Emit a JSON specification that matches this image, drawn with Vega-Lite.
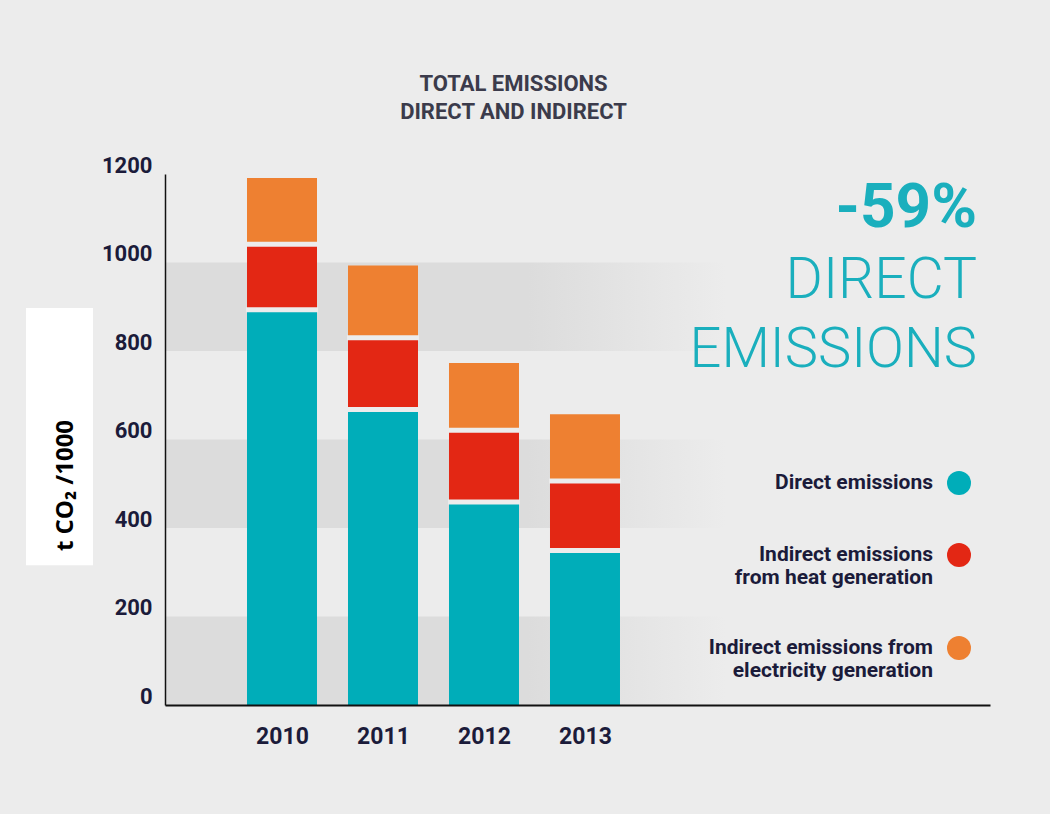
{
  "$schema": "https://vega.github.io/schema/vega-lite/v6.json",
  "width": 825,
  "height": 531,
  "autosize": {"type": "none"},
  "padding": {"left": 165, "top": 174, "right": 60, "bottom": 109},
  "background": "#ececec",
  "title": {
    "text": ["TOTAL EMISSIONS", "DIRECT AND INDIRECT"],
    "font": "Roboto",
    "fontSize": 22,
    "fontWeight": "bold",
    "color": "#3b3b4b",
    "lineHeight": 28,
    "anchor": "middle",
    "frame": "group",
    "dx": -64,
    "offset": 30
  },
  "config": {
    "view": {"stroke": null},
    "scale": {"continuousPadding": 0},
    "axis": {"zindex": 2}
  },
  "layer": [
    {
      "data": {"values": [{"lo": 0, "hi": 200}, {"lo": 400, "hi": 600}, {"lo": 800, "hi": 1000}]},
      "mark": {
        "type": "rect",
        "fill": {
          "gradient": "linear", "x1": 0, "x2": 1, "y1": 0, "y2": 0,
          "stops": [
            {"offset": 0, "color": "#dcdcdc"},
            {"offset": 0.44, "color": "#dcdcdc"},
            {"offset": 0.68, "color": "#ececec"},
            {"offset": 1, "color": "#ececec"}
          ]
        }
      },
      "encoding": {
        "y": {"field": "lo", "type": "quantitative", "scale": {"domain": [0, 1200], "padding": 0}},
        "y2": {"field": "hi"}
      }
    },
    {
      "data": {"values": [{"box": "axis title"}]},
      "mark": {"type": "rect", "fill": "#ffffff"},
      "encoding": {
        "x": {"datum": 2007.465, "type": "quantitative", "scale": {"domain": [2008.8416, 2017.01], "nice": false, "zero": false, "padding": 0}},
        "x2": {"datum": 2008.129},
        "y": {"datum": 897, "type": "quantitative"},
        "y2": {"datum": 316}
      }
    },
    {
      "data": {"name": "emissions"},
      "mark": {"type": "bar", "width": 70},
      "encoding": {
        "x": {
          "field": "year", "type": "quantitative",
          "scale": {"domain": [2008.8416, 2017.01], "nice": false, "zero": false, "padding": 0},
          "axis": {
            "title": null, "values": [2010, 2011, 2012, 2013], "format": "d", "zindex": 2,
            "grid": false, "ticks": false, "domainColor": "#111111", "domainWidth": 2,
            "labelPadding": 20, "labelFont": "Roboto", "labelFontSize": 23,
            "labelFontWeight": "bold", "labelColor": "#1b1b3a", "labelBaseline": "top", "labelFlush": false
          }
        },
        "y": {
          "field": "value", "type": "quantitative", "stack": "zero",
          "scale": {"domain": [0, 1200], "padding": 0},
          "axis": {
            "title": "t CO₂ /1000", "titleX": -100, "titleY": 311, "titleAngle": 270,
            "titleAlign": "center", "titleBaseline": "middle", "zindex": 2,
            "titleFont": "Open Sans", "titleFontSize": 24, "titleFontWeight": "bold", "titleColor": "#000000",
            "values": [0, 200, 400, 600, 800, 1000, 1200], "format": "d",
            "grid": false, "ticks": false, "domainColor": "#111111", "domainWidth": 1.5,
            "labelPadding": 13, "labelOffset": -9,
            "labelFont": "Roboto", "labelFontSize": 22,
            "labelFontWeight": "bold", "labelColor": "#1b1b3a", "labelFlush": false
          }
        },
        "color": {
          "field": "type", "type": "nominal",
          "scale": {
            "domain": ["Direct emissions", "Indirect emissions from heat generation", "Indirect emissions from electricity generation"],
            "range": ["#00adb9", "#e32714", "#ee8031"]
          },
          "legend": {
            "orient": "none", "legendX": 782, "legendY": 297, "title": null,
            "symbolType": "circle", "symbolSize": 576, "symbolStrokeWidth": 0, "symbolOpacity": 1,
            "labelFont": "Roboto", "labelFontSize": 21, "labelFontWeight": "bold",
            "labelColor": "#1b1b3a", "labelAlign": "right", "labelBaseline": "middle", "labelOffset": -38, "labelLimit": 400,
            "rowPadding": 48, "padding": 0,
            "labelExpr": "datum.label == 'Indirect emissions from heat generation' ? ['Indirect emissions', 'from heat generation'] : datum.label == 'Indirect emissions from electricity generation' ? ['Indirect emissions from', 'electricity generation'] : datum.label"
          }
        },
        "order": {"field": "seq", "type": "quantitative"}
      }
    },
    {
      "data": {"name": "emissions"},
      "transform": [{"filter": "datum.seq < 3"}],
      "mark": {"type": "tick", "orient": "horizontal", "thickness": 5, "size": 72, "color": "#ececec", "opacity": 1},
      "encoding": {
        "x": {"field": "year", "type": "quantitative"},
        "y": {"field": "value", "type": "quantitative", "stack": "zero"},
        "order": {"field": "seq", "type": "quantitative"}
      }
    },
    {
      "data": {"values": [{"t": "-59%"}]},
      "mark": {"type": "text", "align": "right", "baseline": "alphabetic", "font": "Roboto", "fontSize": 62, "fontWeight": "bold", "color": "#1aafbd", "dx": -13},
      "encoding": {"text": {"field": "t"}, "x": {"value": "width"}, "y": {"datum": 1080, "type": "quantitative"}}
    },
    {
      "data": {"values": [{"t": "DIRECT"}]},
      "mark": {"type": "text", "align": "right", "baseline": "alphabetic", "font": "Roboto", "fontSize": 57, "fontWeight": 300, "color": "#1aafbd", "dx": -13},
      "encoding": {"text": {"field": "t"}, "x": {"value": "width"}, "y": {"datum": 920, "type": "quantitative"}}
    },
    {
      "data": {"values": [{"t": "EMISSIONS"}]},
      "mark": {"type": "text", "align": "right", "baseline": "alphabetic", "font": "Roboto", "fontSize": 56, "fontWeight": 300, "color": "#1aafbd", "dx": -13},
      "encoding": {"text": {"field": "t"}, "x": {"value": "width"}, "y": {"datum": 764, "type": "quantitative"}}
    }
  ],
  "datasets": {
    "emissions": [
      {"year": 2010, "type": "Direct emissions", "seq": 1, "value": 893},
      {"year": 2010, "type": "Indirect emissions from heat generation", "seq": 2, "value": 148},
      {"year": 2010, "type": "Indirect emissions from electricity generation", "seq": 3, "value": 150},
      {"year": 2011, "type": "Direct emissions", "seq": 1, "value": 668},
      {"year": 2011, "type": "Indirect emissions from heat generation", "seq": 2, "value": 162},
      {"year": 2011, "type": "Indirect emissions from electricity generation", "seq": 3, "value": 163},
      {"year": 2012, "type": "Direct emissions", "seq": 1, "value": 459},
      {"year": 2012, "type": "Indirect emissions from heat generation", "seq": 2, "value": 162},
      {"year": 2012, "type": "Indirect emissions from electricity generation", "seq": 3, "value": 152},
      {"year": 2013, "type": "Direct emissions", "seq": 1, "value": 349},
      {"year": 2013, "type": "Indirect emissions from heat generation", "seq": 2, "value": 157},
      {"year": 2013, "type": "Indirect emissions from electricity generation", "seq": 3, "value": 151}
    ]
  }
}
